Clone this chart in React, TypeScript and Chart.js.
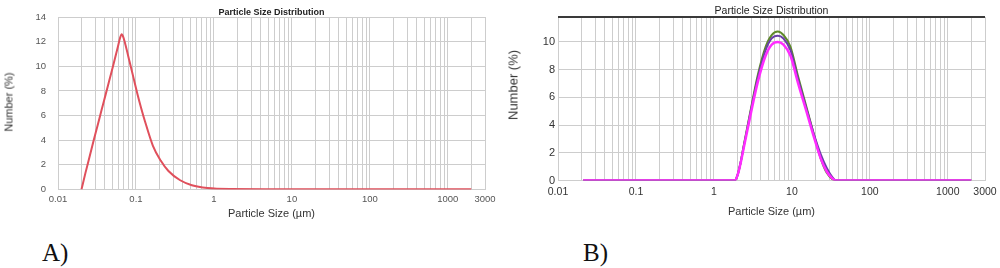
import React, { useEffect, useRef } from "react";
import { Chart, registerables } from "chart.js";

Chart.register(...registerables);

const SANS = "'Liberation Sans', Arial, Helvetica, sans-serif";
const SERIF = "'Liberation Serif', 'Times New Roman', serif";

const CHART_TITLE = "Particle Size Distribution";
const X_TITLE = "Particle Size (µm)";
const Y_TITLE = "Number (%)";
const PANEL_A = "A)";
const PANEL_B = "B)";

const X_MIN = 0.01;
const X_MAX = 3000;
const X_TICK_VALUES = [0.01, 0.1, 1, 10, 100, 1000, 3000];
const X_TICK_LABELS = ["0.01", "0.1", "1", "10", "100", "1000", "3000"];

const A_Y_MAX = 14;
const B_Y_MAX = 11.8;
const Y_STEP = 2;

// Panel A: single red distribution
const A_SIZES = [0.02, 0.0225, 0.0254, 0.0286, 0.0322, 0.0362, 0.0408, 0.0459, 0.0517, 0.0582, 0.0625, 0.0656, 0.069, 0.0736, 0.0826, 0.0927, 0.104, 0.1167, 0.131, 0.165, 0.2075, 0.261, 0.369, 0.521, 0.826, 1.65, 5, 30, 300, 2000];
const A_NUMBER = [0, 1.35, 2.65, 3.95, 5.2, 6.45, 7.7, 8.95, 10.2, 11.5, 12.3, 12.6, 12.35, 11.7, 10.4, 9.1, 7.8, 6.6, 5.5, 3.55, 2.35, 1.5, 0.75, 0.35, 0.12, 0.04, 0.03, 0.02, 0.02, 0.02];

// Panel B: three overlapping distributions
const B_SIZES = [0.021, 1.85, 2.0, 2.2, 2.4, 2.94, 3.65, 4.6, 5.5, 6.6, 7.8, 9.6, 11.9, 15.9, 19.5, 23.4, 28, 33, 37, 2000];
const B_MAGENTA = [0, 0, 0.35, 1.25, 2.3, 4.7, 7.1, 9.0, 9.8, 10.0, 9.8, 9.0, 7.1, 4.7, 3.0, 1.6, 0.65, 0.15, 0, 0];
const B_GREEN = [0, 0, 0.35, 1.3, 2.45, 5.0, 7.6, 9.65, 10.5, 10.75, 10.5, 9.65, 7.6, 5.0, 3.15, 1.6, 0.55, 0.1, 0, 0];
const B_PURPLE = [0, 0, 0.35, 1.3, 2.4, 4.9, 7.4, 9.4, 10.25, 10.45, 10.25, 9.4, 7.4, 4.9, 3.2, 1.9, 0.9, 0.25, 0, 0];

// log grid lines: 1..9 in each decade up to X_MAX
const GRID_VALUES: number[] = [];
for (let e = -2; e <= 3; e++) {
  for (let m = 1; m <= 9; m++) {
    const v = Number((m * Math.pow(10, e)).toPrecision(3));
    if (v <= X_MAX + 1e-9) GRID_VALUES.push(v);
  }
}

function xLabel(v: number): string {
  const i = X_TICK_VALUES.findIndex((t) => Math.abs(Math.log10(t) - Math.log10(v)) < 1e-6);
  return i >= 0 ? X_TICK_LABELS[i] : "";
}

function pts(xs: number[], ys: number[]) {
  return xs.map((x, i) => ({ x, y: ys[i] }));
}

type Style = {
  yMax: number;
  includeBounds: boolean;
  yWidth: number;
  xHeight: number;
  padRight: number;
  titleFont: any;
  titlePad: any;
  titleColor: string;
  xTickFont: number;
  xTickPad: number;
  yTickFont: number;
  yTickPad: number;
  tickColor: string;
  xTitleFont: number;
  xTitleColor: string;
  gridColor: string;
};

function makeConfig(datasets: any[], s: Style, plugins: any[]): any {
  return {
    type: "line",
    data: { datasets },
    plugins,
    options: {
      animation: false,
      responsive: false,
      devicePixelRatio: 1,
      layout: { padding: { left: 0, right: s.padRight, top: 0, bottom: 0 } },
      plugins: {
        legend: { display: false },
        tooltip: { enabled: false },
        title: {
          display: true,
          text: CHART_TITLE,
          fullSize: false,
          color: s.titleColor,
          font: s.titleFont,
          padding: s.titlePad,
        },
      },
      scales: {
        x: {
          type: "logarithmic",
          min: X_MIN,
          max: X_MAX,
          afterBuildTicks: (sc: any) => {
            sc.ticks = GRID_VALUES.map((v) => ({ value: v }));
          },
          afterFit: (sc: any) => {
            sc.height = s.xHeight;
            sc.paddingLeft = 0;
            sc.paddingRight = 0;
          },
          ticks: {
            autoSkip: false,
            maxRotation: 0,
            minRotation: 0,
            padding: s.xTickPad,
            color: s.tickColor,
            font: { family: SANS, size: s.xTickFont },
            callback: (v: any) => xLabel(Number(v)),
          },
          grid: { color: s.gridColor, lineWidth: 1, drawTicks: false },
          border: { display: false },
          title: {
            display: true,
            text: X_TITLE,
            color: s.xTitleColor,
            font: { family: SANS, size: s.xTitleFont },
            padding: { top: 0, bottom: 0 },
          },
        },
        y: {
          type: "linear",
          min: 0,
          max: s.yMax,
          afterFit: (sc: any) => {
            sc.width = s.yWidth;
            sc.paddingTop = 0;
            sc.paddingBottom = 0;
          },
          ticks: {
            stepSize: Y_STEP,
            includeBounds: s.includeBounds,
            padding: s.yTickPad,
            color: s.tickColor,
            font: { family: SANS, size: s.yTickFont },
          },
          grid: { color: s.gridColor, lineWidth: 1, drawTicks: false },
          border: { display: false },
        },
      },
    },
  };
}

const topRule = {
  id: "topRule",
  afterDraw(chart: any) {
    const { ctx, chartArea } = chart;
    ctx.save();
    ctx.strokeStyle = "#3a3a3a";
    ctx.lineWidth = 2;
    ctx.beginPath();
    ctx.moveTo(chartArea.left, chartArea.top);
    ctx.lineTo(chartArea.right, chartArea.top);
    ctx.stroke();
    ctx.restore();
  },
};

function line(data: any[], color: string, width: number) {
  return {
    data,
    borderColor: color,
    borderWidth: width,
    pointRadius: 0,
    fill: false,
    cubicInterpolationMode: "monotone",
  };
}

function ChartCanvas(props: { make: () => any; left: number; top: number; width: number; height: number }) {
  const ref = useRef<HTMLCanvasElement | null>(null);
  useEffect(() => {
    const chart = new Chart(ref.current as HTMLCanvasElement, props.make());
    return () => chart.destroy();
  }, []);
  return (
    <canvas
      ref={ref}
      width={props.width}
      height={props.height}
      style={{ position: "absolute", left: props.left, top: props.top, width: props.width, height: props.height }}
    />
  );
}

function RotLabel(props: { text: string; cx: number; cy: number; size: number }) {
  return (
    <div
      style={{
        position: "absolute",
        left: props.cx,
        top: props.cy,
        transform: "translate(-50%, -50%) rotate(-90deg)",
        whiteSpace: "nowrap",
        fontFamily: SANS,
        fontSize: props.size,
        lineHeight: 1,
        color: "#333",
      }}
    >
      {props.text}
    </div>
  );
}

export default function App() {
  const makeA = () =>
    makeConfig(
      [line(pts(A_SIZES, A_NUMBER), "#e0505c", 2)],
      {
        yMax: A_Y_MAX,
        includeBounds: true,
        yWidth: 58,
        xHeight: 31.5,
        padRight: 15,
        titleFont: { family: SANS, size: 9, weight: "bold", lineHeight: 1 },
        titlePad: { top: 8, bottom: 0 },
        titleColor: "#222",
        xTickFont: 9.5,
        xTickPad: 4,
        yTickFont: 9.5,
        yTickPad: 12,
        tickColor: "#555",
        xTitleFont: 11,
        xTitleColor: "#333",
        gridColor: "#cdcdcd",
      },
      []
    );

  const makeB = () =>
    makeConfig(
      [
        line(pts(B_SIZES, B_MAGENTA), "#ff2cff", 2.5),
        line(pts(B_SIZES, B_PURPLE), "#6a3fa8", 2),
        line(pts(B_SIZES, B_GREEN), "#5f8a2a", 2),
      ],
      {
        yMax: B_Y_MAX,
        includeBounds: false,
        yWidth: 58,
        xHeight: 38.5,
        padRight: 15,
        titleFont: { family: SANS, size: 10.5, weight: "normal", lineHeight: 1 },
        titlePad: { top: 5.75, bottom: 0.75 },
        titleColor: "#222",
        xTickFont: 10.5,
        xTickPad: 5,
        yTickFont: 11,
        yTickPad: 3,
        tickColor: "#333",
        xTitleFont: 11,
        xTitleColor: "#333",
        gridColor: "#cdcdcd",
      },
      [topRule]
    );

  return (
    <div style={{ position: "absolute", left: 0, top: 0, width: 1000, height: 268, background: "#fff", overflow: "hidden" }}>
      <ChartCanvas make={makeA} left={0} top={0} width={500} height={221} />
      <ChartCanvas make={makeB} left={500} top={0} width={500} height={219} />
      <RotLabel text={Y_TITLE} cx={9} cy={102} size={11} />
      <RotLabel text={Y_TITLE} cx={513} cy={85} size={13} />
      <div style={{ position: "absolute", left: 42, top: 240, fontFamily: SERIF, fontSize: 25, lineHeight: "25px", color: "#111" }}>
        {PANEL_A}
      </div>
      <div style={{ position: "absolute", left: 583, top: 240, fontFamily: SERIF, fontSize: 25, lineHeight: "25px", color: "#111" }}>
        {PANEL_B}
      </div>
    </div>
  );
}
